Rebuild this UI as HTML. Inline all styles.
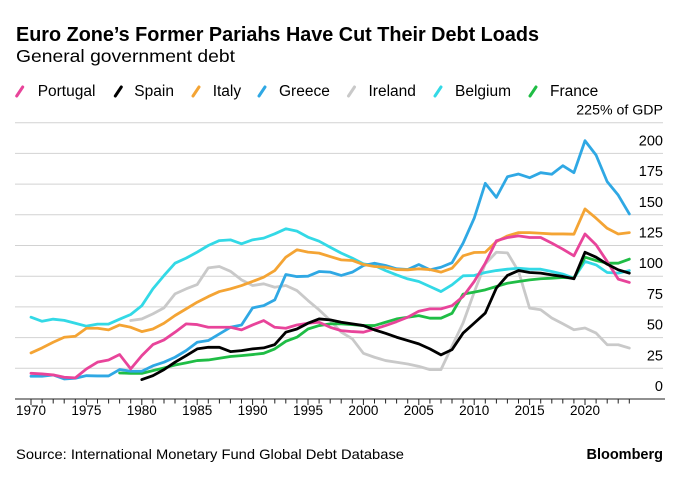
<!DOCTYPE html>
<html>
<head>
<meta charset="utf-8">
<style>
  html, body { margin: 0; padding: 0; background: #ffffff; }
  body { width: 680px; height: 477px; overflow: hidden; }
  svg { display: block; }
  text { font-family: "Liberation Sans", Arial, sans-serif; fill: #000; }
</style>
</head>
<body>
<svg width="680" height="477" viewBox="0 0 680 477" xmlns="http://www.w3.org/2000/svg">
  <rect x="0" y="0" width="680" height="477" fill="#ffffff"/>

  <text x="16" y="41" font-size="20" font-weight="bold" textLength="523" lengthAdjust="spacingAndGlyphs">Euro Zone’s Former Pariahs Have Cut Their Debt Loads</text>
  <text x="16" y="62" font-size="17.5" textLength="219" lengthAdjust="spacingAndGlyphs">General government debt</text>

  <g stroke-width="3" stroke-linecap="round">
    <line x1="16.7" y1="96" x2="22.7" y2="87" stroke="#e8449a"/>
    <line x1="115.3" y1="96" x2="121.3" y2="87" stroke="#000000"/>
    <line x1="193" y1="96" x2="199" y2="87" stroke="#f4a434"/>
    <line x1="259" y1="96" x2="265" y2="87" stroke="#2fa8e4"/>
    <line x1="348.5" y1="96" x2="354.5" y2="87" stroke="#c9c9c9"/>
    <line x1="435" y1="96" x2="441" y2="87" stroke="#33d9e6"/>
    <line x1="530" y1="96" x2="536" y2="87" stroke="#1fbd45"/>
  </g>
  <g font-size="15.5">
    <text x="37.7" y="96">Portugal</text>
    <text x="134.3" y="96">Spain</text>
    <text x="212.7" y="96">Italy</text>
    <text x="279" y="96">Greece</text>
    <text x="368.5" y="96">Ireland</text>
    <text x="455" y="96">Belgium</text>
    <text x="550" y="96">France</text>
  </g>

  <path stroke="#d2d2d2" stroke-width="1" fill="none" d="M15 122.7H663M15 153.4H663M15 184.1H663M15 214.8H663M15 245.5H663M15 276.2H663M15 306.9H663M15 337.6H663M15 368.3H663"/>

  <g font-size="14.5" text-anchor="end">
    <text x="663" y="114.7" font-size="14" textLength="86.7" lengthAdjust="spacingAndGlyphs">225% of GDP</text>
    <text x="663" y="145.4">200</text>
    <text x="663" y="176.1">175</text>
    <text x="663" y="206.8">150</text>
    <text x="663" y="237.5">125</text>
    <text x="663" y="268.2">100</text>
    <text x="663" y="298.9">75</text>
    <text x="663" y="329.6">50</text>
    <text x="663" y="360.3">25</text>
    <text x="663" y="391">0</text>
  </g>

  <g transform="translate(31,399) scale(11.08,-1.228)" fill="none" stroke-width="2.8" stroke-linejoin="round" stroke-linecap="round">
    <polyline vector-effect="non-scaling-stroke" stroke="#c9c9c9" points="9,63.9 10,65.2 11,69.3 12,74.2 13,85.6 14,89.7 15,93.2 16,106.8 17,107.9 18,104 19,97 20,92.4 21,93.8 22,91 23,92.4 24,88.3 25,80.2 26,72.6 27,64 28,54.4 29,49 30,37.2 31,34 32,31.3 33,29.9 34,28.5 35,26.6 36,23.9 37,23.9 38,43 39,62 40,87 41,110 42,119.5 43,119 44,104 45,74 46,72.7 47,66 48,61.3 49,56.4 50,57.8 51,53.7 52,44.2 53,44.2 54,41.5"/>
    <polyline vector-effect="non-scaling-stroke" stroke="#33d9e6" points="0,66.6 1,63.3 2,65 3,64 4,61.7 5,59.3 6,61 7,61 8,65 9,68.8 10,76 11,89.7 12,100.5 13,110.6 14,114.7 15,119.6 16,125 17,129 18,129.6 19,126.4 20,129.6 21,131 22,134.5 23,138.6 24,136.7 25,131.8 26,128.5 27,123.6 28,118.8 29,114.7 30,110 31,108.7 32,104.6 33,101 34,97.8 35,95.7 36,91.6 37,87.5 38,93 39,100.3 40,100.6 41,103 42,104.6 43,105.7 44,106.5 45,105.7 46,105.7 47,103.8 48,101.7 49,98.4 50,112 51,109.2 52,103 53,102.5 54,104.6"/>
    <polyline vector-effect="non-scaling-stroke" stroke="#1fbd45" points="8,21.2 9,20.9 10,20.9 11,23.1 12,25.3 13,27.7 14,29.4 15,31.3 16,31.8 17,33.2 18,34.6 19,35.3 20,36.2 21,37.2 22,40.8 23,47 24,50.3 25,57 26,59.8 27,61.2 28,61.2 29,60.6 30,59.8 31,59.8 32,62.5 33,65.2 34,66.6 35,67.9 36,65.8 37,65.8 38,69.8 39,85.4 40,87 41,88.9 42,91.6 43,94.3 44,95.7 45,97 46,97.9 47,98.4 48,99 49,98.4 50,115.5 51,112.8 52,110.6 53,110.6 54,113.9"/>
    <polyline vector-effect="non-scaling-stroke" stroke="#2fa8e4" points="0,18.5 1,18.5 2,19.6 3,16.3 4,16.9 5,19 6,18.8 7,18.8 8,24 9,22.6 10,22.6 11,27 12,30 13,34 14,39.4 15,46.2 16,47.6 17,53 18,58.4 19,60.3 20,74.2 21,76 22,80.7 23,101.4 24,99.7 25,100 26,103.8 27,103.3 28,100.6 29,103.3 30,108.7 31,110.6 32,108.7 33,106 34,105.4 35,109.5 36,105.2 37,107.3 38,111 39,127 40,147.2 41,175.6 42,164.2 43,181 44,183.2 45,180.2 46,184.3 47,183 48,190 49,184.3 50,210.3 51,198.6 52,177 53,166 54,150.7"/>
    <polyline vector-effect="non-scaling-stroke" stroke="#f4a434" points="0,37.5 1,41.6 2,46.2 3,50.3 4,51.1 5,57.6 6,57.6 7,56.3 8,60.3 9,58.4 10,54.9 11,57 12,61.7 13,68 14,73.4 15,78.8 16,83.4 17,87.5 18,89.7 19,92.4 20,95.7 21,99.2 22,104.6 23,115.5 24,121.5 25,119.6 26,118.8 27,116 28,113.3 29,112.8 30,109.5 31,107.9 32,107.3 33,105.4 34,105.2 35,106 36,105.4 37,103.3 38,106.5 39,116.6 40,119.3 41,119.5 42,128.2 43,132.8 44,135.5 45,135.5 46,135 47,134.4 48,134.4 49,134.2 50,154.8 51,147.2 52,139 53,134.4 54,135.5"/>
    <polyline vector-effect="non-scaling-stroke" stroke="#e8449a" points="0,20.9 1,20.4 2,19.6 3,17.7 4,17.2 5,24.5 6,30 7,31.8 8,36.2 9,24.5 10,35.3 11,44.3 12,48.1 13,54.4 14,61.2 15,60.6 16,58.4 17,58.4 18,58.4 19,56.3 20,60.3 21,63.9 22,58.4 23,57.6 24,60.3 25,61.7 26,62.5 27,58.4 28,55.7 29,54.9 30,54.4 31,57 32,59.8 33,63 34,66.6 35,71.5 36,73.4 37,73.4 38,76 39,83.5 40,95.7 41,110.6 42,128.8 43,131.5 44,132.8 45,131.5 46,131.5 47,126.9 48,122 49,116.6 50,134.4 51,125.5 52,112 53,97.6 54,94.9"/>
    <polyline vector-effect="non-scaling-stroke" stroke="#000000" points="10,15.8 11,19 12,23.9 13,30 14,35.3 15,40.8 16,42.1 17,42.1 18,38.6 19,39.4 20,40.8 21,41.6 22,44.3 23,54.4 24,57 25,61.7 26,65.2 27,64.4 28,62.5 29,61.2 30,59.8 31,56.3 32,53.5 33,50.3 34,47.6 35,44.9 36,40.8 37,35.9 38,40.2 39,53.7 40,61.8 41,70 42,90.3 43,100.6 44,104.6 45,103 46,102.5 47,101.1 48,99.8 49,97.9 50,119.5 51,115.5 52,109.8 53,105.2 54,102.5"/>
  </g>

  <line x1="15" y1="399" x2="665" y2="399" stroke="#222" stroke-width="1"/>
  <path stroke="#222" stroke-width="1" fill="none" d="M31 399V405M86.4 399V405M141.8 399V405M197.2 399V405M252.6 399V405M308 399V405M363.4 399V405M418.8 399V405M474.2 399V405M529.6 399V405M585 399V405M42.1 399V403.5M53.2 399V403.5M64.2 399V403.5M75.3 399V403.5M97.5 399V403.5M108.6 399V403.5M119.6 399V403.5M130.7 399V403.5M152.9 399V403.5M164 399V403.5M175 399V403.5M186.1 399V403.5M208.3 399V403.5M219.4 399V403.5M230.4 399V403.5M241.5 399V403.5M263.7 399V403.5M274.8 399V403.5M285.8 399V403.5M296.9 399V403.5M319.1 399V403.5M330.2 399V403.5M341.2 399V403.5M352.3 399V403.5M374.5 399V403.5M385.6 399V403.5M396.6 399V403.5M407.7 399V403.5M429.9 399V403.5M441 399V403.5M452 399V403.5M463.1 399V403.5M485.3 399V403.5M496.4 399V403.5M507.4 399V403.5M518.5 399V403.5M540.7 399V403.5M551.8 399V403.5M562.8 399V403.5M573.9 399V403.5M596.1 399V403.5M607.2 399V403.5M618.2 399V403.5M629.3 399V403.5"/>
  <g font-size="13.5" text-anchor="middle">
    <text x="31" y="415">1970</text>
    <text x="86.4" y="415">1975</text>
    <text x="141.8" y="415">1980</text>
    <text x="197.2" y="415">1985</text>
    <text x="252.6" y="415">1990</text>
    <text x="308" y="415">1995</text>
    <text x="363.4" y="415">2000</text>
    <text x="418.8" y="415">2005</text>
    <text x="474.2" y="415">2010</text>
    <text x="529.6" y="415">2015</text>
    <text x="585" y="415">2020</text>
  </g>

  <text x="16" y="459" font-size="14" textLength="388" lengthAdjust="spacingAndGlyphs">Source: International Monetary Fund Global Debt Database</text>
  <text x="663" y="459" font-size="14.5" font-weight="bold" text-anchor="end">Bloomberg</text>
</svg>
</body>
</html>
